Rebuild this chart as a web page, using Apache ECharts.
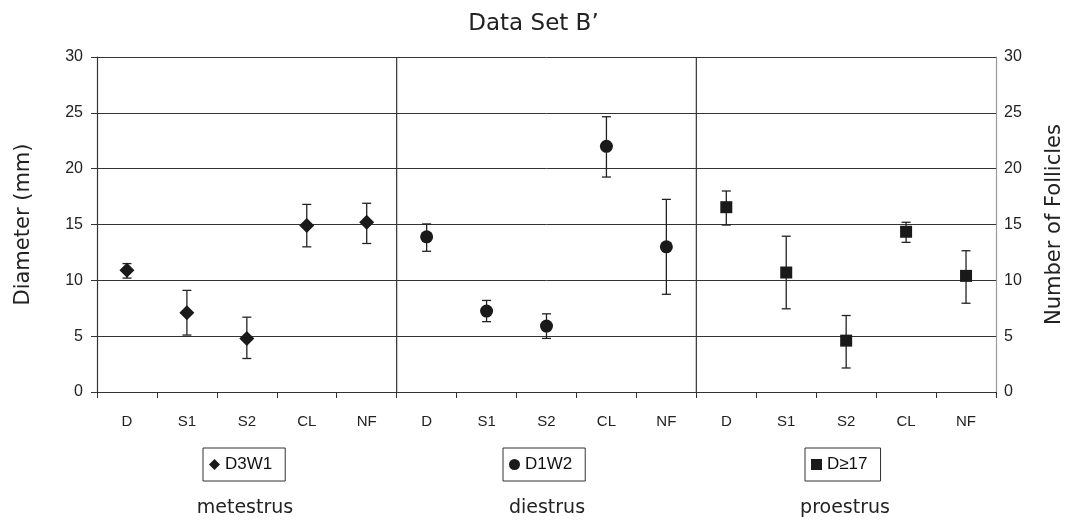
<!DOCTYPE html>
<html><head><meta charset="utf-8">
<script src="https://cdn.jsdelivr.net/npm/echarts@6/dist/echarts.min.js"></script>
<style>html,body{margin:0;padding:0;background:#fff}#c{width:1067px;height:522px}</style>
</head><body><div id="c"></div>
<script>
const categories = ['D','S1','S2','CL','NF','D','S1','S2','CL','NF','D','S1','S2','CL','NF'];
const yTicks = [0,5,10,15,20,25,30];
const seriesNames = ['D3W1','D1W2','D≥17'];
const groupLabels = ['metestrus','diestrus','proestrus'];
// mean values per group (D,S1,S2,CL,NF)
const d3w1Mean = [10.9, 7.1, 4.8, 14.9, 15.2];
const d3w1Low  = [10.2, 5.1, 3.0, 13.0, 13.3];
const d3w1High = [11.5, 9.1, 6.7, 16.8, 16.9];
const d1w2Mean = [13.9, 7.25, 5.9, 22.0, 13.0];
const d1w2Low  = [12.6, 6.3, 4.8, 19.25, 8.75];
const d1w2High = [15.05, 8.2, 7.0, 24.65, 17.25];
const d17Mean  = [16.55, 10.7, 4.6, 14.35, 10.4];
const d17Low   = [14.95, 7.45, 2.15, 13.4, 7.95];
const d17High  = [18.0, 13.95, 6.85, 15.2, 12.65];

const groups = [
  {name: seriesNames[0], mean: d3w1Mean, low: d3w1Low, high: d3w1High, symbol: 'diamond', size: 15, offset: 0},
  {name: seriesNames[1], mean: d1w2Mean, low: d1w2Low, high: d1w2High, symbol: 'circle', size: 13, offset: 5},
  {name: seriesNames[2], mean: d17Mean, low: d17Low, high: d17High, symbol: 'rect', size: 12, offset: 10}
];

const ink = '#1a1a1a';
const series = [];
groups.forEach(g => {
  series.push({
    type: 'custom', name: g.name + ' err', silent: true, z: 2,
    data: g.mean.map((m, i) => [i + g.offset, g.low[i], g.high[i]]),
    renderItem: (params, api) => {
      const x = api.value(0);
      const lo = api.coord([x, api.value(1)]);
      const hi = api.coord([x, api.value(2)]);
      const w = 4.5;
      const st = {stroke: '#222', lineWidth: 1.3};
      return {type: 'group', children: [
        {type: 'line', shape: {x1: lo[0], y1: lo[1], x2: hi[0], y2: hi[1]}, style: st},
        {type: 'line', shape: {x1: lo[0]-w, y1: lo[1], x2: lo[0]+w, y2: lo[1]}, style: st},
        {type: 'line', shape: {x1: hi[0]-w, y1: hi[1], x2: hi[0]+w, y2: hi[1]}, style: st}
      ]};
    }
  });
  series.push({
    type: 'scatter', name: g.name, symbol: g.symbol, symbolSize: g.size, z: 3,
    itemStyle: {color: ink, opacity: 1},
    data: g.mean.map((m, i) => [i + g.offset, m])
  });
});
// group dividers
series.push({
  type: 'custom', silent: true, z: 1,
  data: [[5], [10]],
  renderItem: (params, api) => {
    const c = api.coord([api.value(0), 30]);
    const b = api.coord([api.value(0), 0]);
    const half = api.size([1, 0])[0] / 2;
    return {type: 'line', shape: {x1: c[0]-half, y1: c[1], x2: b[0]-half, y2: b[1]}, style: {stroke: '#333', lineWidth: 1.2}};
  }
});

const legendLefts = [203, 503, 805];
const groupCenters = [245, 547, 845];
const legends = groups.map((g, k) => ({
  data: [{name: g.name, icon: g.symbol, itemStyle: {color: ink, opacity: 1}}],
  left: legendLefts[k], top: 448,
  borderColor: '#333', borderWidth: 1, borderRadius: 0,
  padding: [8, 13, 8, 6],
  itemWidth: 11, itemHeight: 11, itemGap: 4,
  textStyle: {fontFamily: 'Liberation Sans', fontSize: 17, color: '#111'},
  selectedMode: false
}));

const chart = echarts.init(document.getElementById('c'), null, {renderer: 'canvas'});
chart.setOption({
  animation: false,
  backgroundColor: '#fff',
  title: {text: 'Data Set B\u2019', left: 'center', top: 8,
    textStyle: {fontFamily: 'DejaVu Sans', fontWeight: 'normal', fontSize: 23, color: '#222'}},
  legend: legends,
  grid: {left: 97, right: 71, top: 57, bottom: 130, outerBoundsMode: 'none', containLabel: false},
  xAxis: {
    type: 'category', data: categories, boundaryGap: true,
    axisLine: {lineStyle: {color: '#333', width: 1.2}},
    axisTick: {show: true, length: 6, lineStyle: {color: '#333'}},
    axisLabel: {fontFamily: 'Liberation Sans', fontSize: 15, color: '#222', margin: 22}
  },
  yAxis: [
    {type: 'value', min: 0, max: 30, interval: 5, position: 'left',
     name: 'Diameter (mm)', nameLocation: 'middle', nameGap: 63, nameRotate: 90,
     nameTextStyle: {fontFamily: 'DejaVu Sans', fontSize: 21, color: '#222'},
     axisLine: {show: true, lineStyle: {color: '#333', width: 1.2}},
     axisTick: {show: true, length: 6, inside: false, lineStyle: {color: '#333'}},
     axisLabel: {fontFamily: 'Liberation Sans', fontSize: 16, color: '#222', margin: 14},
     splitLine: {show: true, lineStyle: {color: '#333', width: 1}}},
    {type: 'value', min: 0, max: 30, interval: 5, position: 'right',
     name: 'Number of Follicles', nameLocation: 'middle', nameGap: 48, nameRotate: 90,
     nameTextStyle: {fontFamily: 'DejaVu Sans', fontSize: 21, color: '#222'},
     axisLine: {show: true, lineStyle: {color: '#999', width: 1.2}},
     axisTick: {show: false},
     axisLabel: {fontFamily: 'Liberation Sans', fontSize: 16, color: '#222', margin: 8},
     splitLine: {show: false}}
  ],
  graphic: groupLabels.map((t, k) => ({
    type: 'text', x: groupCenters[k], y: 508,
    style: {text: t, fontFamily: 'DejaVu Sans', fontSize: 19, fill: '#222', textAlign: 'center', textVerticalAlign: 'middle'}
  })),
  series: series
});
</script></body></html>
